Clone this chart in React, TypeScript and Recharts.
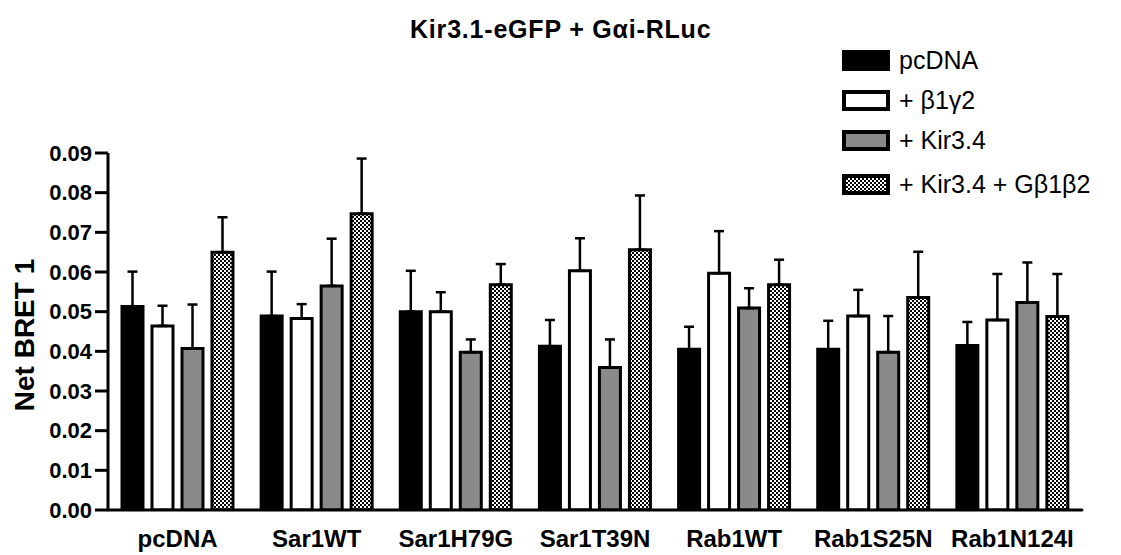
import { Bar, BarChart, ErrorBar, XAxis, YAxis } from 'recharts'

const FONT = '"Liberation Sans", Arial, Helvetica, sans-serif'

const categories = ['pcDNA', 'Sar1WT', 'Sar1H79G', 'Sar1T39N', 'Rab1WT', 'Rab1S25N', 'Rab1N124I']

const pcdnaMean = [0.0513, 0.0489, 0.05, 0.0413, 0.0405, 0.0405, 0.0415]
const pcdnaSem = [0.0088, 0.0112, 0.0103, 0.0066, 0.0057, 0.0072, 0.0059]

const b1g2Mean = [0.0464, 0.0483, 0.05, 0.0603, 0.0597, 0.0489, 0.0479]
const b1g2Sem = [0.0051, 0.0036, 0.0049, 0.0082, 0.0106, 0.0066, 0.0116]

const kir34Mean = [0.0407, 0.0565, 0.0398, 0.0359, 0.0509, 0.0398, 0.0523]
const kir34Sem = [0.0111, 0.0119, 0.0032, 0.0071, 0.005, 0.0091, 0.0101]

const kirGbMean = [0.065, 0.0747, 0.0568, 0.0656, 0.0568, 0.0536, 0.0488]
const kirGbSem = [0.0088, 0.0139, 0.0052, 0.0137, 0.0063, 0.0115, 0.0107]

const yTicks = [0, 0.01, 0.02, 0.03, 0.04, 0.05, 0.06, 0.07, 0.08, 0.09]

// only the upper whisker is drawn, so the error is passed as [below, above]
const data = categories.map((name, i) => ({
  name,
  pcdna: pcdnaMean[i],
  pcdnaErr: [0, pcdnaSem[i]],
  b1g2: b1g2Mean[i],
  b1g2Err: [0, b1g2Sem[i]],
  kir34: kir34Mean[i],
  kir34Err: [0, kir34Sem[i]],
  kirGb: kirGbMean[i],
  kirGbErr: [0, kirGbSem[i]],
}))

const series = [
  { key: 'pcdna', label: 'pcDNA', fill: '#000' },
  { key: 'b1g2', label: '+ \u03b21\u03b32', fill: '#fff' },
  { key: 'kir34', label: '+ Kir3.4', fill: '#8a8a8a' },
  { key: 'kirGb', label: '+ Kir3.4 + G\u03b21\u03b22', fill: 'url(#checker)' },
]

const legendTops = [50, 90, 130, 174]

function Swatch({ fill }: { fill: string }) {
  return (
    <svg width={48} height={21} style={{ display: 'block' }}>
      <defs>
        <pattern id="checkerLegend" width={4} height={4} patternUnits="userSpaceOnUse">
          <rect width={4} height={4} fill="#fff" />
          <rect width={2} height={2} fill="#000" />
          <rect x={2} y={2} width={2} height={2} fill="#000" />
        </pattern>
      </defs>
      <rect
        x={2}
        y={2}
        width={44}
        height={17}
        fill={fill === 'url(#checker)' ? 'url(#checkerLegend)' : fill}
        stroke="#000"
        strokeWidth={4}
      />
    </svg>
  )
}

export default function App() {
  return (
    <div style={{ position: 'absolute', left: 0, top: 0, width: 1121, height: 555, fontFamily: FONT, background: '#fff' }}>
      <div
        style={{
          position: 'absolute',
          top: 17,
          left: 410,
          fontSize: 25,
          lineHeight: '25px',
          fontWeight: 'bold',
          letterSpacing: 0.8,
          whiteSpace: 'nowrap',
        }}
      >
        Kir3.1-eGFP + G{'\u03b1'}i-RLuc
      </div>

      <div
        style={{
          position: 'absolute',
          left: 25,
          top: 335,
          transform: 'translate(-50%, -50%) rotate(-90deg)',
          fontSize: 28,
          fontWeight: 'bold',
          whiteSpace: 'nowrap',
          lineHeight: '28px',
        }}
      >
        Net BRET 1
      </div>

      {series.map((s, i) => (
        <div
          key={s.key}
          style={{ position: 'absolute', left: 842, top: legendTops[i], display: 'flex', alignItems: 'center', gap: 9 }}
        >
          <Swatch fill={s.fill} />
          <span style={{ fontSize: 25, lineHeight: '21px', whiteSpace: 'nowrap' }}>{s.label}</span>
        </div>
      ))}

      <BarChart
        width={1121}
        height={555}
        data={data}
        margin={{ top: 153, right: 39, bottom: 0, left: 0 }}
        barSize={21}
        barGap={9}
        style={{ fontFamily: FONT }}
      >
        <defs>
          <pattern id="checker" width={4} height={4} patternUnits="userSpaceOnUse">
            <rect width={4} height={4} fill="#fff" />
            <rect width={2} height={2} fill="#000" />
            <rect x={2} y={2} width={2} height={2} fill="#000" />
          </pattern>
        </defs>
        <XAxis
          dataKey="name"
          height={45}
          tickLine={false}
          tickMargin={14}
          axisLine={{ stroke: '#000', strokeWidth: 3, strokeLinecap: 'round' }}
          tick={{ fill: '#000', fontSize: 24, fontWeight: 'bold' }}
          interval={0}
        />
        <YAxis
          width={108}
          domain={[0, 0.09]}
          ticks={yTicks}
          tickFormatter={(v: number) => v.toFixed(2)}
          tickSize={13}
          tickMargin={3}
          tickLine={{ stroke: '#000', strokeWidth: 3 }}
          axisLine={{ stroke: '#000', strokeWidth: 3 }}
          tick={{ fill: '#000', fontSize: 22, fontWeight: 'bold' }}
          allowDataOverflow
        />
        {series.map((s) => (
          <Bar key={s.key} dataKey={s.key} name={s.label} fill={s.fill} stroke="#000" strokeWidth={3} isAnimationActive={false}>
            <ErrorBar dataKey={`${s.key}Err`} width={5} stroke="#000" strokeWidth={2.5} direction="y" />
          </Bar>
        ))}
      </BarChart>
    </div>
  )
}
